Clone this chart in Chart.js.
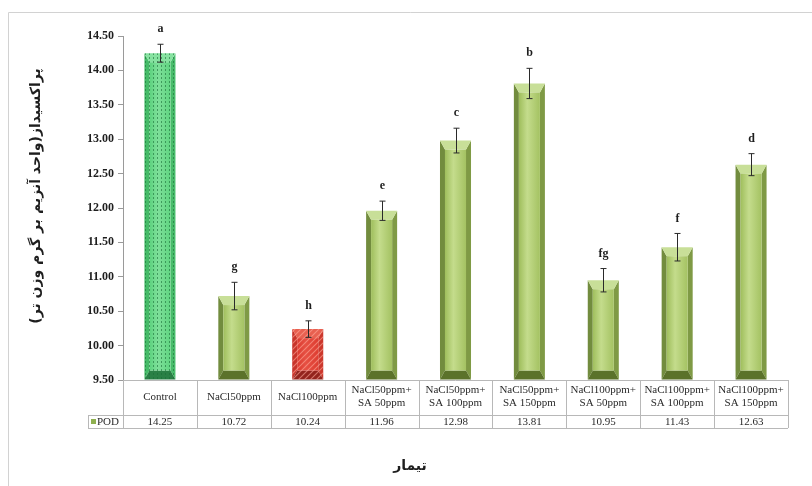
<!DOCTYPE html>
<html>
<head>
<meta charset="utf-8">
<script src="https://cdn.jsdelivr.net/npm/chart.js@4.4.1/dist/chart.umd.min.js"></script>
<style>
  html, body { margin: 0; padding: 0; background: #ffffff; }
  #wrap { width: 812px; height: 486px; position: relative; }
</style>
</head>
<body>
<div id="wrap"><canvas id="chart" width="812" height="486"></canvas></div>
<script>
// ---- data ----
const categories = [
  ['Control'],
  ['NaCl50ppm'],
  ['NaCl100ppm'],
  ['NaCl50ppm+', 'SA 50ppm'],
  ['NaCl50ppm+', 'SA 100ppm'],
  ['NaCl50ppm+', 'SA 150ppm'],
  ['NaCl100ppm+', 'SA 50ppm'],
  ['NaCl100ppm+', 'SA 100ppm'],
  ['NaCl100ppm+', 'SA 150ppm']
];
const podValues = [14.25, 10.72, 10.24, 11.96, 12.98, 13.81, 10.95, 11.43, 12.63];
const podErrors = [0.13, 0.20, 0.12, 0.14, 0.18, 0.22, 0.17, 0.20, 0.16];
const groupLetters = ['a', 'g', 'h', 'e', 'c', 'b', 'fg', 'f', 'd'];
const yTickValues = [9.5, 10, 10.5, 11, 11.5, 12, 12.5, 13, 13.5, 14, 14.5];
const seriesName = 'POD';
const yTitle = 'پراکسیداز(واحد آنزیم بر گرم وزن تر)';
const xTitle = 'تیمار';

// ---- look ----
const SERIF = '"Liberation Serif", "Times New Roman", serif';
const ARABIC = '"DejaVu Sans", sans-serif';

function makePattern(kind) {
  const c = document.createElement('canvas');
  const g = c.getContext('2d');
  if (kind === 'dots') {
    c.width = 4; c.height = 4;
    g.fillStyle = 'rgba(25,110,55,0.6)';
    g.fillRect(1, 1, 1, 2);
  } else {
    c.width = 6; c.height = 6;
    g.strokeStyle = 'rgba(255,170,155,0.6)';
    g.lineWidth = 1.1;
    g.beginPath();
    g.moveTo(-1, 7); g.lineTo(7, -1);
    g.moveTo(-1, 1); g.lineTo(1, -1);
    g.moveTo(5, 7); g.lineTo(7, 5);
    g.stroke();
  }
  return g.createPattern(c, 'repeat');
}

const skins = {
  green: { sideL: '#728c3e', sideR: '#7f9a45', top: '#c8df98', bottom: '#5b722a',
           face: ['#9fbe5c', '#c4dc8c', '#a4c262'], pattern: null },
  control: { sideL: '#45bb68', sideR: '#49bd6c', top: '#86e2a0', bottom: '#2a8046',
             face: ['#5cd27e', '#7ee09a', '#60d481'], pattern: 'dots' },
  red: { sideL: '#c8342a', sideR: '#cc372c', top: '#e86050', bottom: '#93241d',
         face: ['#dc3a2f', '#e65043', '#de3d31'], pattern: 'hatch' }
};
const barSkin = i => (i === 0 ? skins.control : i === 2 ? skins.red : skins.green);

function poly(ctx, pts, fill) {
  ctx.beginPath();
  ctx.moveTo(pts[0][0], pts[0][1]);
  for (let k = 1; k < pts.length; k++) ctx.lineTo(pts[k][0], pts[k][1]);
  ctx.closePath();
  ctx.fillStyle = fill;
  ctx.fill();
}

function drawBevelBar(ctx, x, top, bottom, w, skin) {
  const l = x - w / 2, r = x + w / 2;
  const s = 5, tb = Math.min(9, (bottom - top) / 3), bb = Math.min(9, (bottom - top) / 3);
  poly(ctx, [[l, top], [l + s, top + tb], [l + s, bottom - bb], [l, bottom]], skin.sideL);
  poly(ctx, [[r, top], [r - s, top + tb], [r - s, bottom - bb], [r, bottom]], skin.sideR);
  poly(ctx, [[l, top], [r, top], [r - s, top + tb], [l + s, top + tb]], skin.top);
  poly(ctx, [[l, bottom], [r, bottom], [r - s, bottom - bb], [l + s, bottom - bb]], skin.bottom);
  const grad = ctx.createLinearGradient(l + s, 0, r - s, 0);
  grad.addColorStop(0, skin.face[0]);
  grad.addColorStop(0.4, skin.face[1]);
  grad.addColorStop(1, skin.face[2]);
  ctx.fillStyle = grad;
  ctx.fillRect(l + s, top + tb, w - 2 * s, bottom - top - tb - bb);
  if (skin.pattern) {
    ctx.save();
    ctx.beginPath();
    ctx.rect(l, top, w, bottom - top);
    ctx.clip();
    ctx.fillStyle = makePattern(skin.pattern);
    ctx.fillRect(l, top, w, bottom - top);
    ctx.restore();
  }
}

// Bars with bevels, error bars and group letters
const bevelBars = {
  id: 'bevelBars',
  afterDatasetsDraw(chart) {
    const ctx = chart.ctx;
    const y = chart.scales.y;
    const meta = chart.getDatasetMeta(0);
    ctx.save();
    meta.data.forEach((bar, i) => {
      const p = bar.getProps(['x', 'y', 'base', 'width'], true);
      drawBevelBar(ctx, p.x, p.y, Math.min(p.base, chart.chartArea.bottom), p.width, barSkin(i));
    });
    ctx.strokeStyle = '#2a2a2a';
    ctx.lineWidth = 1;
    meta.data.forEach((bar, i) => {
      const x = Math.round(bar.x) + 0.5;
      const hi = y.getPixelForValue(podValues[i] + podErrors[i]);
      const lo = y.getPixelForValue(podValues[i] - podErrors[i]);
      ctx.beginPath();
      ctx.moveTo(x, hi); ctx.lineTo(x, lo);
      ctx.moveTo(x - 3, hi); ctx.lineTo(x + 3, hi);
      ctx.moveTo(x - 3, lo); ctx.lineTo(x + 3, lo);
      ctx.stroke();
      ctx.fillStyle = '#1e1e1e';
      ctx.font = 'bold 12px ' + SERIF;
      ctx.textAlign = 'center';
      ctx.textBaseline = 'middle';
      ctx.fillText(groupLetters[i], x, hi - 15);
    });
    ctx.restore();
  }
};

// Data table under the plot, axis titles and frame
const dataTable = {
  id: 'dataTable',
  afterDraw(chart) {
    const ctx = chart.ctx;
    const xs = chart.scales.x;
    const area = chart.chartArea;
    const n = categories.length;
    const step = (area.right - area.left) / n;
    const rowTop = area.bottom, rowMid = area.bottom + 35, rowBot = area.bottom + 48;
    const legendLeft = 88;
    ctx.save();
    // outer frame
    ctx.strokeStyle = '#d2d2d2';
    ctx.lineWidth = 1;
    ctx.beginPath();
    ctx.moveTo(8.5, 486); ctx.lineTo(8.5, 12.5); ctx.lineTo(812, 12.5);
    ctx.stroke();
    // table grid
    ctx.strokeStyle = '#b8b8b8';
    ctx.beginPath();
    ctx.moveTo(area.left, rowTop + 0.5); ctx.lineTo(area.right, rowTop + 0.5);
    ctx.moveTo(legendLeft, rowMid + 0.5); ctx.lineTo(area.right, rowMid + 0.5);
    ctx.moveTo(legendLeft, rowBot + 0.5); ctx.lineTo(area.right, rowBot + 0.5);
    ctx.moveTo(legendLeft + 0.5, rowMid); ctx.lineTo(legendLeft + 0.5, rowBot);
    for (let i = 0; i <= n; i++) {
      const gx = Math.round(area.left + i * step) + 0.5;
      ctx.moveTo(gx, rowTop); ctx.lineTo(gx, rowBot);
    }
    ctx.stroke();
    // category names and values
    ctx.fillStyle = '#2a2a2a';
    ctx.font = '11px ' + SERIF;
    ctx.textAlign = 'center';
    ctx.textBaseline = 'middle';
    categories.forEach((lines, i) => {
      const cx = xs.getPixelForValue(i);
      const y0 = lines.length === 1 ? rowTop + 17 : rowTop + 10;
      lines.forEach((t, k) => ctx.fillText(t, cx, y0 + k * 13));
      ctx.fillText(podValues[i].toFixed(2), cx, rowMid + 7);
    });
    // legend key
    ctx.fillStyle = '#8fb050';
    ctx.fillRect(91, rowMid + 4, 5, 5);
    ctx.fillStyle = '#2a2a2a';
    ctx.textAlign = 'left';
    ctx.fillText(seriesName, 97, rowMid + 7);
    // axis titles
    ctx.fillStyle = '#1e1e1e';
    ctx.font = 'bold 14px ' + ARABIC;
    ctx.textAlign = 'center';
    ctx.direction = 'rtl';
    ctx.fillText(xTitle, 410, 466);
    ctx.translate(36, 196);
    ctx.rotate(-Math.PI / 2);
    ctx.fillText(yTitle, 0, 0);
    ctx.restore();
  }
};

new Chart(document.getElementById('chart'), {
  type: 'bar',
  data: {
    labels: categories.map(c => c.join(' ')),
    datasets: [{
      label: seriesName,
      data: podValues,
      base: yTickValues[0],
      backgroundColor: 'rgba(0,0,0,0)',
      borderWidth: 0,
      barPercentage: 0.42,
      categoryPercentage: 1
    }]
  },
  options: {
    responsive: false,
    animation: false,
    layout: { padding: { left: 0, right: 24, top: 36, bottom: 106 } },
    plugins: { legend: { display: false }, tooltip: { enabled: false } },
    scales: {
      x: { display: false },
      y: {
        min: yTickValues[0],
        max: yTickValues[yTickValues.length - 1],
        afterFit: s => { s.width = 123; },
        afterBuildTicks: s => { s.ticks = yTickValues.map(v => ({ value: v })); },
        ticks: {
          padding: 4,
          color: '#1e1e1e',
          font: { family: SERIF, size: 12, weight: 'bold' },
          callback: v => Number(v).toFixed(2)
        },
        grid: { drawOnChartArea: false, drawTicks: true, tickLength: 5, color: '#9a9a9a' },
        border: { display: true, color: '#9a9a9a' }
      }
    }
  },
  plugins: [bevelBars, dataTable]
});
</script>
</body>
</html>
